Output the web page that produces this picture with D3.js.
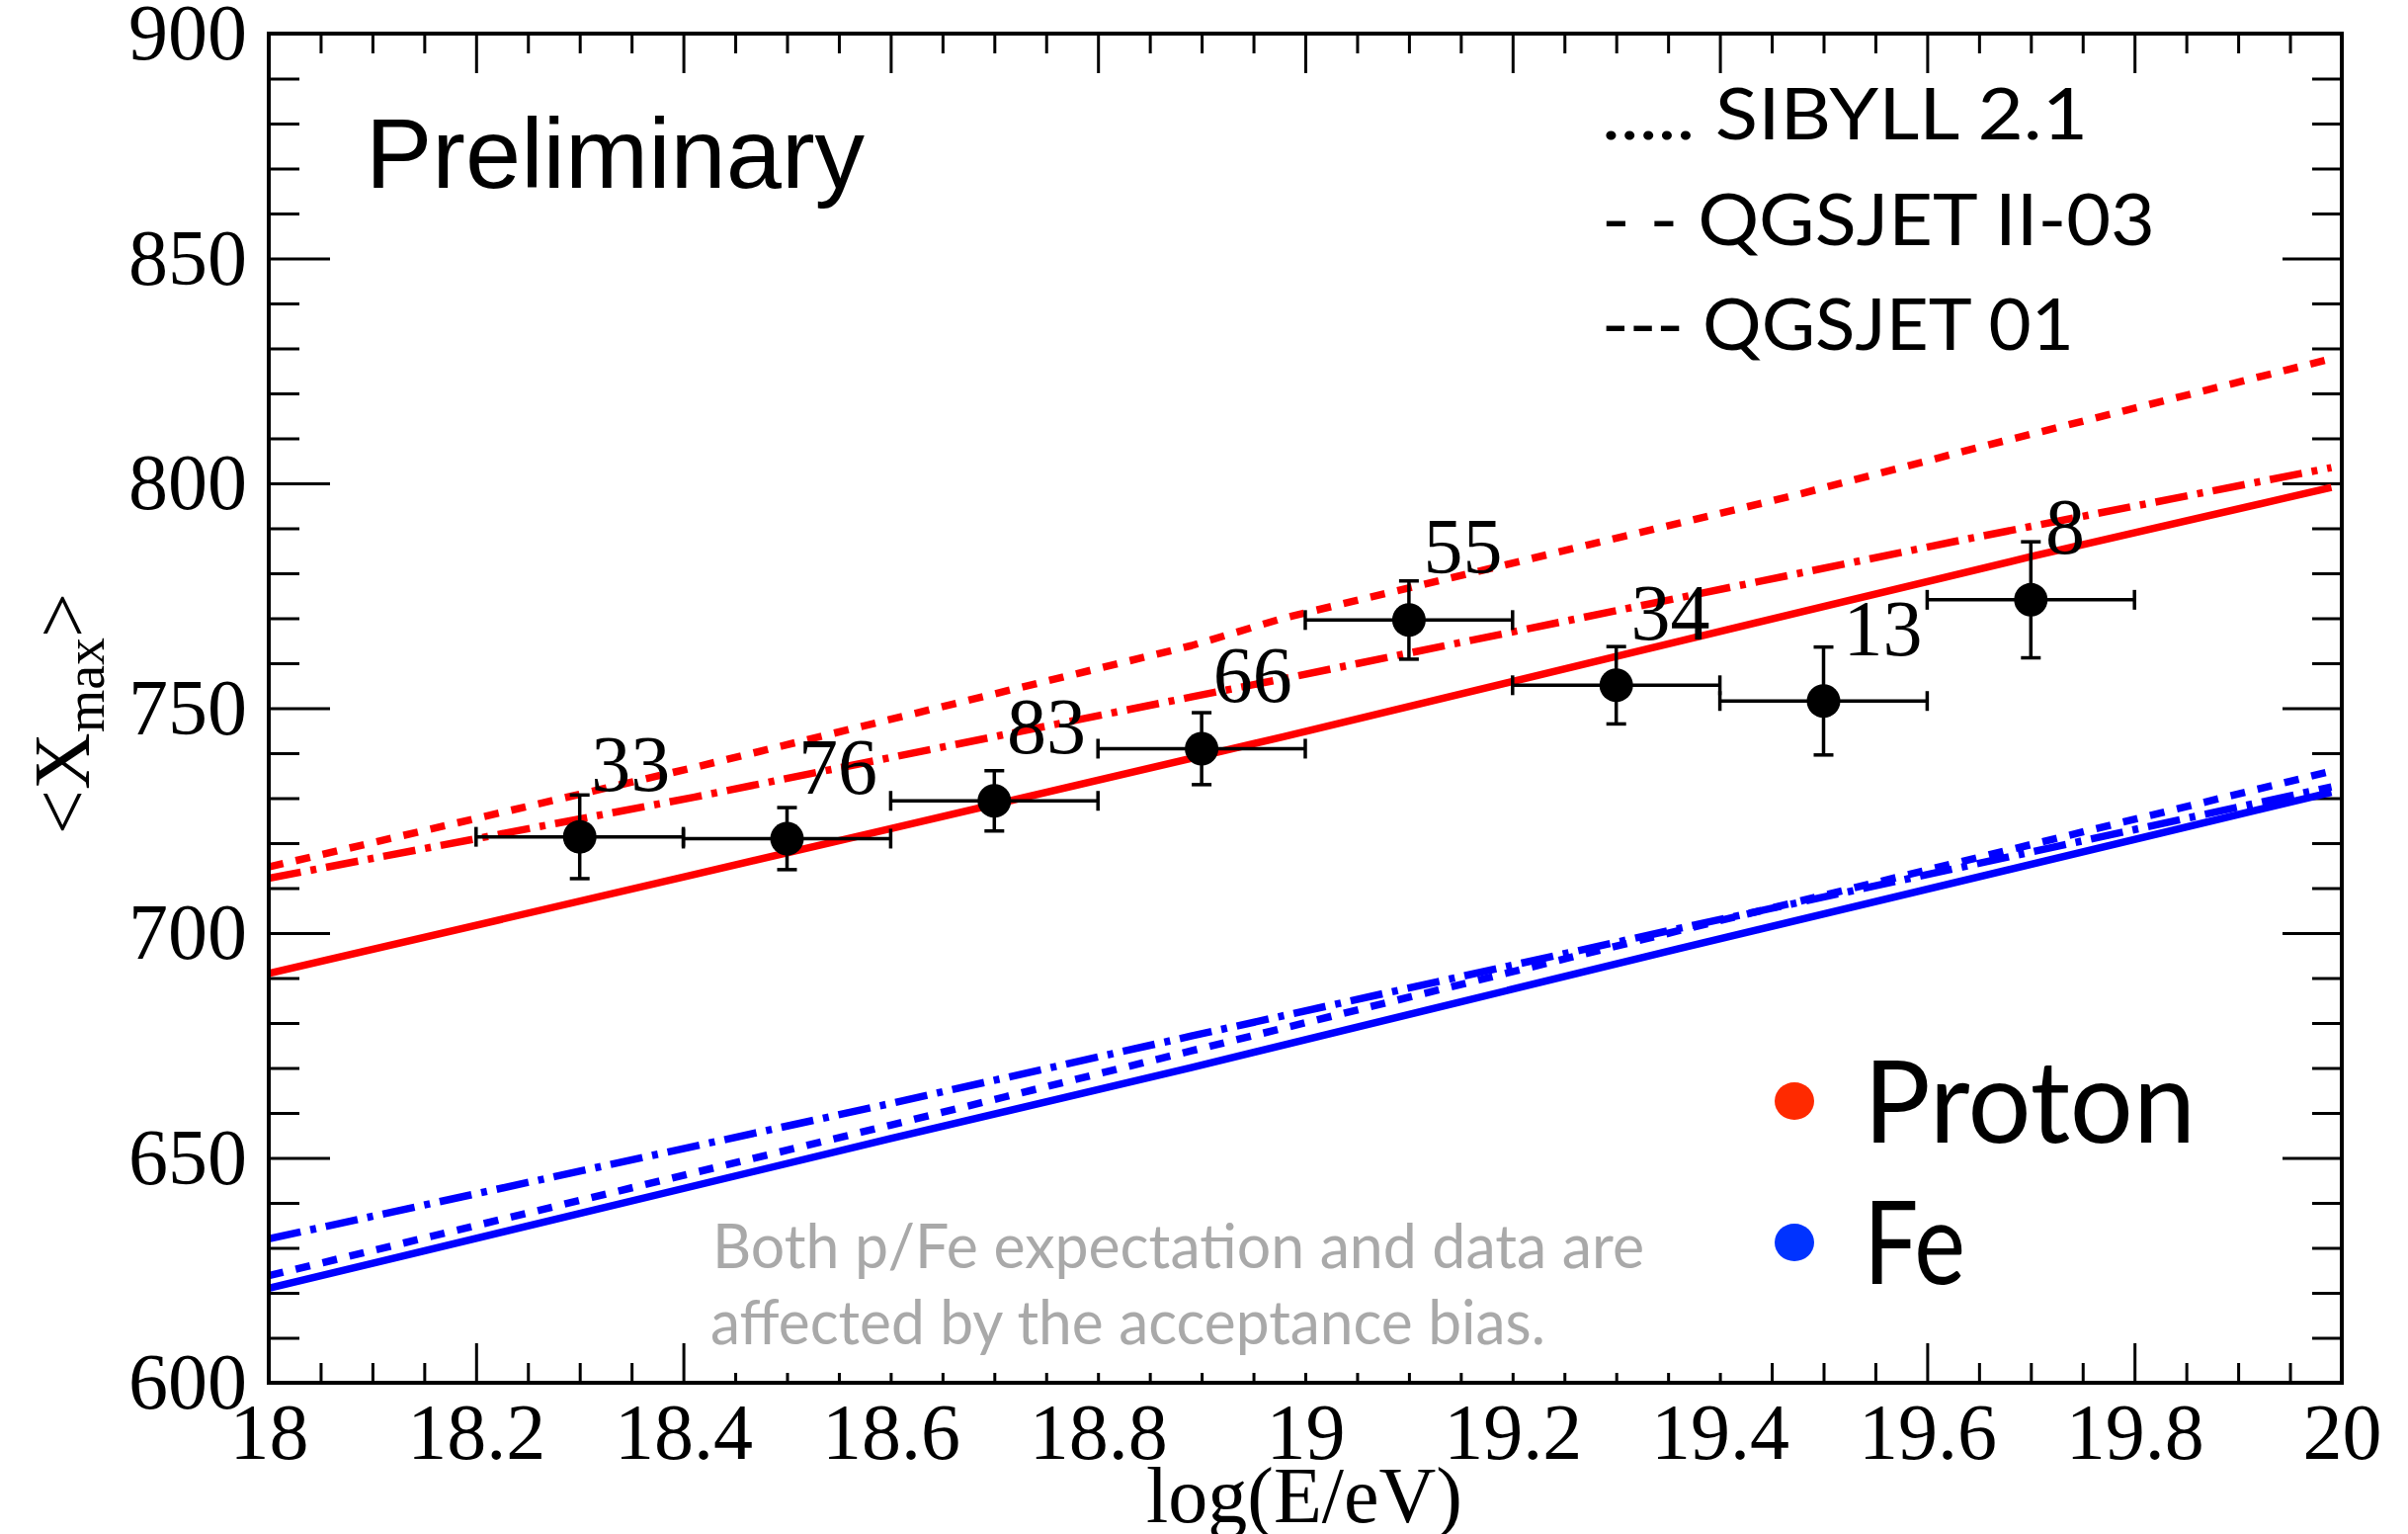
<!DOCTYPE html>
<html>
<head>
<meta charset="utf-8">
<script src="https://cdn.jsdelivr.net/npm/d3@7"></script>
<style>
  html, body { margin: 0; padding: 0; background: #ffffff; }
  svg { display: block; }
</style>
</head>
<body>
<svg id="chart" width="2437" height="1552"></svg>
<script>
// ---- measured <Xmax> per energy bin ----
const binCenters = [18.3, 18.5, 18.7, 18.9, 19.1, 19.3, 19.5, 19.7];
const binHalfWidth = [0.1, 0.1, 0.1, 0.1, 0.1, 0.1, 0.1, 0.1];
const meanXmax = [721.4, 721.0, 729.4, 741.0, 769.6, 755.1, 751.6, 774.1];
const errXmax = [9.3, 6.9, 6.7, 8.0, 8.7, 8.6, 12.0, 12.9];
const eventCounts = [33, 76, 83, 66, 55, 34, 13, 8];
// anchor (logE, Xmax) of each event-count label
const countLabelE = [18.311, 18.511, 18.712, 18.911, 19.114, 19.314, 19.519, 19.714];
const countLabelX = [731.6, 730.9, 740.1, 751.4, 780.0, 765.3, 761.8, 784.4];

// ---- simulated expectations: [logE, <Xmax>] ----
const protonSibyll = [[18.0, 714.7], [18.41, 736.8], [18.89, 763.9], [18.98, 770.1], [19.47, 797.2], [19.66, 808.6], [19.99, 827.7]];
const protonQgsII  = [[18.0, 712.2], [18.41, 730.2], [18.89, 752.5], [18.98, 756.6], [19.64, 787.7], [19.99, 803.5]];
const protonQgs01  = [[18.0, 691.0], [18.41, 713.0], [18.6, 723.2], [18.98, 743.7], [19.3, 761.5], [19.7, 783.7], [19.99, 799.1]];
const ironSibyll   = [[18.0, 623.8], [18.6, 657.3], [18.89, 673.8], [19.36, 700.5], [19.99, 736.0]];
const ironQgsII    = [[18.0, 632.0], [18.6, 662.1], [18.89, 677.1], [19.36, 701.0], [19.99, 732.5]];
const ironQgs01    = [[18.0, 621.0], [18.6, 654.3], [18.89, 670.1], [19.36, 696.5], [19.99, 731.3]];

// ---- axes ----
const xDomain = [18, 20];
const yDomain = [600, 900];
const xMajorTicks = [18, 18.2, 18.4, 18.6, 18.8, 19, 19.2, 19.4, 19.6, 19.8, 20];
const xTickLabels = ["18", "18.2", "18.4", "18.6", "18.8", "19", "19.2", "19.4", "19.6", "19.8", "20"];
const yMajorTicks = [600, 650, 700, 750, 800, 850, 900];
const yTickLabels = ["600", "650", "700", "750", "800", "850", "900"];

const legendModels = ["..... SIBYLL 2.1", "- - QGSJET II-03", "--- QGSJET 01"];
const speciesNames = ["Proton", "Fe"];
const noteLines = ["Both p/Fe expectation and data are", "affected by the acceptance bias."];

// ---- layout ----
const frame = { left: 272, right: 2370, top: 34, bottom: 1399 };
const serif = "'Liberation Serif', 'Times New Roman', serif";
const sans = "'Liberation Sans', Arial, sans-serif";
const humanist = "Lato, 'Open Sans', sans-serif";
const RED = "#ff0000", BLUE = "#0000ff";
const serifSize = 80;

const svg = d3.select("#chart");
const x = d3.scaleLinear().domain(xDomain).range([frame.left, frame.right]);
const y = d3.scaleLinear().domain(yDomain).range([frame.bottom, frame.top]);

svg.append("rect").attr("width", 2437).attr("height", 1552).attr("fill", "#fff");

svg.append("defs").append("clipPath").attr("id", "plotClip")
  .append("rect")
  .attr("x", frame.left).attr("y", frame.top)
  .attr("width", frame.right - frame.left).attr("height", frame.bottom - frame.top);

// minor tick positions
const xMinorTicks = d3.range(0, 41).map(i => 18 + i * 0.05).filter(v => !xMajorTicks.some(m => Math.abs(m - v) < 1e-6));
const yMinorTicks = d3.range(0, 31).map(i => 600 + i * 10).filter(v => v % 50 !== 0);

function styleAxis(g) {
  g.select(".domain").remove();
  g.selectAll(".tick line").attr("stroke", "#000").attr("stroke-width", 3);
  g.selectAll(".tick text").attr("fill", "#000").attr("font-family", serif).attr("font-size", serifSize);
}

// bottom
svg.append("g").attr("transform", `translate(0,${frame.bottom})`)
  .call(d3.axisBottom(x).tickValues(xMinorTicks).tickSizeInner(-20).tickSizeOuter(0).tickFormat(""))
  .call(styleAxis);
svg.append("g").attr("transform", `translate(0,${frame.bottom})`)
  .call(d3.axisBottom(x).tickValues(xMajorTicks).tickSizeInner(-40).tickSizeOuter(0).tickPadding(20)
    .tickFormat((d, i) => xTickLabels[i]))
  .call(styleAxis);
// top
svg.append("g").attr("transform", `translate(0,${frame.top})`)
  .call(d3.axisTop(x).tickValues(xMinorTicks).tickSizeInner(-20).tickSizeOuter(0).tickFormat(""))
  .call(styleAxis);
svg.append("g").attr("transform", `translate(0,${frame.top})`)
  .call(d3.axisTop(x).tickValues(xMajorTicks).tickSizeInner(-40).tickSizeOuter(0).tickFormat(""))
  .call(styleAxis);
// left
svg.append("g").attr("transform", `translate(${frame.left},0)`)
  .call(d3.axisLeft(y).tickValues(yMinorTicks).tickSizeInner(-31).tickSizeOuter(0).tickFormat(""))
  .call(styleAxis);
svg.append("g").attr("transform", `translate(${frame.left},0)`)
  .call(d3.axisLeft(y).tickValues(yMajorTicks).tickSizeInner(-62).tickSizeOuter(0).tickPadding(22)
    .tickFormat((d, i) => yTickLabels[i]))
  .call(styleAxis);
// right
svg.append("g").attr("transform", `translate(${frame.right},0)`)
  .call(d3.axisRight(y).tickValues(yMinorTicks).tickSizeInner(-30).tickSizeOuter(0).tickFormat(""))
  .call(styleAxis);
svg.append("g").attr("transform", `translate(${frame.right},0)`)
  .call(d3.axisRight(y).tickValues(yMajorTicks).tickSizeInner(-60).tickSizeOuter(0).tickFormat(""))
  .call(styleAxis);

// ---- expectation curves ----
const line = d3.line().x(d => x(d[0])).y(d => y(d[1]));
const curves = [
  { data: protonSibyll, color: RED, dash: "15,13" },
  { data: protonQgsII, color: RED, dash: "33,10,6,10" },
  { data: protonQgs01, color: RED, dash: null },
  { data: ironSibyll, color: BLUE, dash: "15,13" },
  { data: ironQgsII, color: BLUE, dash: "33,10,6,10" },
  { data: ironQgs01, color: BLUE, dash: null }
];
const curveLayer = svg.append("g").attr("clip-path", "url(#plotClip)");
curves.forEach(c => {
  curveLayer.append("path")
    .attr("d", line(c.data))
    .attr("fill", "none")
    .attr("stroke", c.color)
    .attr("stroke-width", 7.5)
    .attr("stroke-linejoin", "round")
    .attr("stroke-dasharray", c.dash);
});

// ---- acceptance note on a white panel ----
svg.append("rect")
  .attr("x", 712).attr("y", 1226).attr("width", 1060).attr("height", 163)
  .attr("fill", "#fff");
const noteG = svg.append("g").attr("font-family", humanist).attr("font-size", 62).attr("fill", "#a9a9a9");
noteG.append("text").attr("x", 721).attr("y", 1283).attr("textLength", 943)
  .attr("lengthAdjust", "spacingAndGlyphs").text(noteLines[0]);
noteG.append("text").attr("x", 719).attr("y", 1360).attr("textLength", 845)
  .attr("lengthAdjust", "spacingAndGlyphs").text(noteLines[1]);

// ---- data points with error bars ----
const points = binCenters.map((e, i) => ({
  e, hw: binHalfWidth[i], v: meanXmax[i], err: errXmax[i], n: eventCounts[i],
  le: countLabelE[i], lv: countLabelX[i]
}));
const dataG = svg.append("g");
const cap = 10;
points.forEach(p => {
  const cx = x(p.e), cy = y(p.v);
  const g = dataG.append("g").attr("stroke", "#000").attr("stroke-width", 3.5);
  g.append("line").attr("x1", x(p.e - p.hw)).attr("x2", x(p.e + p.hw)).attr("y1", cy).attr("y2", cy);
  g.append("line").attr("x1", x(p.e - p.hw)).attr("x2", x(p.e - p.hw)).attr("y1", cy - cap).attr("y2", cy + cap);
  g.append("line").attr("x1", x(p.e + p.hw)).attr("x2", x(p.e + p.hw)).attr("y1", cy - cap).attr("y2", cy + cap);
  g.append("line").attr("x1", cx).attr("x2", cx).attr("y1", y(p.v + p.err)).attr("y2", y(p.v - p.err));
  g.append("line").attr("x1", cx - cap).attr("x2", cx + cap).attr("y1", y(p.v + p.err)).attr("y2", y(p.v + p.err));
  g.append("line").attr("x1", cx - cap).attr("x2", cx + cap).attr("y1", y(p.v - p.err)).attr("y2", y(p.v - p.err));
  dataG.append("circle").attr("cx", cx).attr("cy", cy).attr("r", 17).attr("fill", "#000");
  dataG.append("text")
    .attr("x", x(p.le)).attr("y", y(p.lv))
    .attr("font-family", serif).attr("font-size", serifSize).attr("fill", "#000")
    .text(p.n);
});

// ---- frame ----
svg.append("rect")
  .attr("x", frame.left).attr("y", frame.top)
  .attr("width", frame.right - frame.left).attr("height", frame.bottom - frame.top)
  .attr("fill", "none").attr("stroke", "#000").attr("stroke-width", 4);

// ---- annotations ----
svg.append("text").attr("x", 370).attr("y", 190)
  .attr("font-family", sans).attr("font-size", 101).attr("fill", "#000")
  .text("Preliminary");

const legendG = svg.append("g").attr("font-family", humanist).attr("font-size", 72).attr("fill", "#000");
const legendBaselines = [141, 248, 354];
const legendWidths = [492, 560, 478];
legendModels.forEach((t, i) => {
  legendG.append("text").attr("x", 1621).attr("y", legendBaselines[i])
    .attr("textLength", legendWidths[i]).attr("lengthAdjust", "spacingAndGlyphs")
    .text(t);
});

const speciesColors = ["#ff2a00", "#0033ff"];
const speciesBaselines = [1156, 1299];
const speciesDotY = [1114, 1257];
const speciesWidths = [336, 103];
speciesNames.forEach((s, i) => {
  svg.append("ellipse").attr("cx", 1816).attr("cy", speciesDotY[i]).attr("rx", 20).attr("ry", 19)
    .attr("fill", speciesColors[i]);
  svg.append("text").attr("x", 1886).attr("y", speciesBaselines[i])
    .attr("font-family", humanist).attr("font-size", 117).attr("fill", "#000")
    .attr("textLength", speciesWidths[i]).attr("lengthAdjust", "spacingAndGlyphs")
    .text(s);
});

// axis titles
svg.append("text").attr("x", (frame.left + frame.right) / 2 - 1).attr("y", 1540)
  .attr("text-anchor", "middle").attr("font-family", serif).attr("font-size", serifSize).attr("fill", "#000")
  .text("log(E/eV)");

const yTitle = svg.append("text")
  .attr("transform", "translate(90,722) rotate(-90)")
  .attr("text-anchor", "middle").attr("font-family", serif).attr("font-size", serifSize).attr("fill", "#000");
yTitle.append("tspan").text("<X");
yTitle.append("tspan").attr("font-size", 56).attr("dy", 15).text("max");
yTitle.append("tspan").attr("dy", -15).text(">");
</script>
</body>
</html>
